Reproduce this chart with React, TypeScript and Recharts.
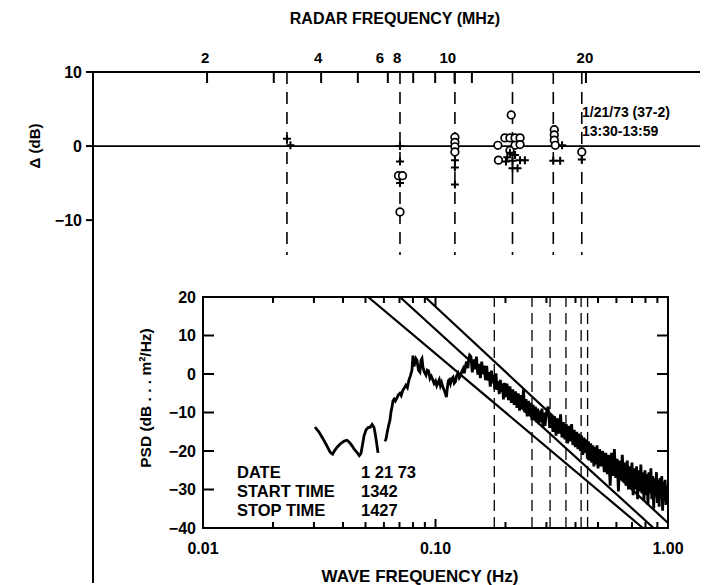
import React from 'react';
import { ComposedChart, Line, Scatter, XAxis, YAxis, ReferenceLine } from 'recharts';

const FONT = '"Liberation Sans", Arial, Helvetica, sans-serif';
const W = 715;
const H = 585;

// ---------------- top panel: radar frequency vs delta ----------------
const radarTicks = [2, 3, 4, 5, 6, 7, 8, 9, 10, 20];
const radarLabelled = [2, 4, 6, 8, 10, 20];
const radarFreqs = [3.25, 6.46, 9.02, 12.8, 16.4, 19.5];
const radarDashTop = 10;
const radarDashBottom = -14.7;
const deltaTicks = [10, 0, -10];

const circlePts = [
  { f: 6.40, d: -4.0 }, { f: 6.56, d: -4.0 }, { f: 6.46, d: -8.9 },
  { f: 9.02, d: 1.2 }, { f: 9.02, d: 0.5 }, { f: 9.02, d: -0.1 }, { f: 9.02, d: -0.8 },
  { f: 12.7, d: 4.2 }, { f: 12.22, d: 1.1 }, { f: 12.6, d: 1.1 }, { f: 13.0, d: 1.1 }, { f: 13.4, d: 1.1 },
  { f: 11.71, d: 0.1 }, { f: 13.0, d: 0.1 }, { f: 13.4, d: 0.2 }, { f: 12.6, d: -0.6 }, { f: 11.75, d: -1.9 },
  { f: 16.5, d: 2.2 }, { f: 16.5, d: 1.5 }, { f: 16.5, d: 0.8 }, { f: 16.6, d: 0.1 },
  { f: 19.5, d: -0.8 },
];
const plusPts = [
  { f: 3.25, d: 1.0 }, { f: 3.32, d: 0.1 },
  { f: 6.46, d: 0.0 }, { f: 6.46, d: -2.1 }, { f: 6.46, d: -5.0 },
  { f: 9.02, d: -1.9 }, { f: 9.02, d: -2.9 }, { f: 9.02, d: -5.2 },
  { f: 12.6, d: -0.9 }, { f: 12.4, d: -1.5 }, { f: 13.0, d: -1.2 }, { f: 12.8, d: -2.0 },
  { f: 13.4, d: -1.9 }, { f: 13.8, d: -1.9 }, { f: 12.8, d: -3.0 }, { f: 13.2, d: -3.0 }, { f: 12.3, d: -2.1 },
  { f: 17.3, d: 0.1 }, { f: 16.4, d: -2.0 }, { f: 17.1, d: -2.0 },
  { f: 19.5, d: -1.8 },
];

// ---------------- bottom panel: wave spectrum ----------------
const waveTicks = [0.01, 0.02, 0.03, 0.04, 0.05, 0.06, 0.07, 0.08, 0.09, 0.1, 0.2, 0.3, 0.4, 0.5, 0.6, 0.7, 0.8, 0.9, 1];
const waveMajor = [0.01, 0.1, 1];
const waveMajorLabels = ['0.01', '0.10', '1.00'];
const psdTicks = [20, 10, 0, -10, -20, -30, -40];
const braggFreqs = [0.179, 0.260, 0.311, 0.364, 0.423, 0.451];

const lowFreq = [0.0303, 0.0315, 0.0328, 0.0340, 0.0352, 0.0361, 0.0370, 0.0380, 0.0392, 0.0405, 0.0416, 0.0427, 0.0437, 0.0448, 0.0460, 0.0470, 0.0478, 0.0485, 0.0493, 0.0503, 0.0513, 0.0524, 0.0534, 0.0544, 0.0552, 0.0560, 0.0566, 0.0585, 0.0607, 0.0613, 0.0619, 0.0628, 0.0637, 0.0643, 0.0650, 0.0656, 0.0664, 0.0672, 0.0683, 0.0692, 0.0703, 0.0712, 0.0724, 0.0735, 0.0746, 0.0757, 0.0769, 0.0780, 0.0792, 0.0800, 0.0808, 0.0816, 0.0824, 0.0832, 0.0845, 0.0857, 0.0866, 0.0875, 0.0883, 0.0895, 0.0910, 0.0922, 0.0934, 0.0947, 0.0960, 0.0975, 0.0986, 0.1000, 0.1012, 0.1025, 0.1038, 0.1050, 0.1062, 0.1076, 0.1090, 0.1102, 0.1114, 0.1125, 0.1135, 0.1147, 0.1160, 0.1175, 0.1190, 0.1204, 0.1218, 0.1232, 0.1249, 0.1265, 0.1283, 0.1300, 0.1315, 0.1330, 0.1345, 0.1360, 0.1378, 0.1390, 0.1402];
const lowPsd = [-13.8, -15.0, -16.8, -18.5, -20.3, -20.8, -19.7, -18.8, -18.0, -17.4, -17.2, -17.8, -18.6, -19.6, -20.4, -21.2, -20.6, -18.5, -16.0, -14.5, -13.9, -13.8, -13.1, -13.9, -16.0, -18.5, -20.5, null, -17.5, -16.8, -15.3, -13.5, -12.0, -10.0, -8.6, -7.0, -6.5, -7.0, -6.2, -5.4, -5.0, -5.6, -4.2, -3.6, -2.9, -3.5, -1.5, -0.5, 1.0, 4.8, 2.0, 2.9, 4.0, 3.6, 1.0, 0.5, 3.5, 4.0, 1.8, 0.5, -0.3, 1.0, 0.8, -1.2, -0.6, -1.6, -2.4, -1.8, -3.0, -2.2, -1.5, -3.0, -2.2, -3.4, -4.2, -5.0, -6.0, -3.5, -1.8, -1.5, -2.5, -1.2, -0.8, -2.4, -2.0, -0.5, 0.2, -1.0, -0.3, 0.8, 1.4, 0.2, 2.0, 3.2, 1.5, 4.0, 4.9];

const highFreq = [
  0.142, 0.144, 0.146, 0.148, 0.150, 0.152, 0.154, 0.156, 0.158, 0.160, 0.162, 0.164, 0.166, 0.168, 0.170, 0.172, 0.174, 0.176, 0.178, 0.180, 0.182, 0.184, 0.186, 0.188, 0.190, 0.192, 0.194, 0.196, 0.198, 0.200,
  0.203, 0.206, 0.209, 0.212, 0.215, 0.218, 0.221, 0.224, 0.227, 0.230, 0.233, 0.236, 0.239, 0.242, 0.245, 0.248, 0.251, 0.254, 0.257, 0.260, 0.263, 0.266, 0.269, 0.272, 0.275, 0.278, 0.281, 0.284, 0.287, 0.290, 0.293, 0.296, 0.299,
  0.305, 0.310, 0.315, 0.320, 0.325, 0.330, 0.335, 0.340, 0.345, 0.350, 0.355, 0.360, 0.365, 0.370, 0.375, 0.380, 0.385, 0.390, 0.395, 0.400, 0.405, 0.410, 0.415, 0.420, 0.425, 0.430, 0.435, 0.440, 0.445, 0.450, 0.455, 0.460, 0.465, 0.470, 0.475, 0.480, 0.485, 0.490, 0.495, 0.500,
  0.508, 0.516, 0.524, 0.532, 0.540, 0.548, 0.556, 0.564, 0.572, 0.580, 0.588, 0.596, 0.604, 0.612, 0.620, 0.628, 0.636, 0.644, 0.652, 0.660, 0.668, 0.676, 0.684, 0.692, 0.700, 0.708, 0.716, 0.724, 0.732, 0.740, 0.748, 0.756, 0.764, 0.772, 0.780, 0.788, 0.796, 0.804, 0.812, 0.820, 0.828, 0.836, 0.844, 0.852, 0.860, 0.868, 0.876, 0.884, 0.892, 0.900, 0.908, 0.916, 0.924, 0.932, 0.940, 0.948, 0.956, 0.964, 0.972, 0.980, 0.988, 0.996,
];
const highPsd = [
  4.5, 0.4, 3.8, 1.2, 4.5, -0.2, 2.6, -1.1, 3.2, 0.0, 2.2, -1.6, 2.1, -1.7, 0.5, -3.3, 0.9, -2.4, -0.2, -4.0, 0.2, -4.1, -1.9, -5.2, -1.5, -4.7, -2.4, -6.6, -2.3, -6.0,
  -2.5, -6.8, -3.2, -7.5, -4.0, -8.0, -4.5, -8.8, -5.0, -9.5, -5.5, -9.0, -4.0, -10.0, -6.5, -11.0, -7.0, -10.5, -7.5, -12.0, -8.0, -11.5, -8.5, -12.5, -9.0, -13.0, -9.5, -12.5, -9.0, -14.0, -10.0, -13.5, -10.5,
  -8.5, -14.0, -10.5, -15.0, -11.0, -16.0, -11.5, -15.5, -10.5, -16.5, -12.5, -17.0, -13.0, -18.0, -13.5, -17.5, -13.0, -18.5, -14.5, -19.0, -15.0, -19.5, -15.5, -20.0, -16.0, -21.0, -16.5, -20.5, -17.0, -22.0, -17.5, -22.5, -18.0, -23.0, -18.5, -24.0, -19.0, -23.5, -18.5, -24.5,
  -19.5, -24.0, -20.0, -25.5, -20.5, -26.0, -21.0, -29.0, -20.5, -26.5, -19.5, -27.0, -22.0, -30.5, -22.5, -27.5, -21.0, -28.0, -23.0, -29.0, -22.5, -30.0, -24.0, -29.5, -23.0, -31.5, -24.5, -30.0, -24.0, -32.5, -25.0, -30.5, -23.5, -31.0, -25.5, -33.0, -25.0, -31.5, -26.0, -34.0, -25.5, -31.0, -24.5, -32.5, -26.5, -35.0, -27.0, -32.0, -25.5, -33.5, -27.5, -34.5, -27.0, -32.0, -26.5, -35.5, -28.0, -33.0, -27.5, -34.0, -29.0, -33.0,
];

// reference slopes: [f start, f end], [psd start, psd end]
const refLineFreqs = [[0.0513, 0.780], [0.0703, 0.867], [0.0902, 1.0]];
const refLinePsd = [[20, -40], [20, -40], [20, -38.7]];

const spectrum = [
  ...lowFreq.map((f, i) => ({ f, psd: lowPsd[i] })),
  ...highFreq.map((f, i) => ({ f, psd: highPsd[i] })),
];
const refLines = refLineFreqs.map((fs, i) => fs.map((f, j) => ({ f, psd: refLinePsd[i][j] })));

// ---------------- layout ----------------
const TL = 93, TR = 700, TT = 72, TB = 583;
const BL = 203, BR = 668, BT = 297, BB = 528;
// the printed tick labels of the original sit a little left of their ticks
const topLabelShift: Record<number, number> = { 2: -2, 4: -3, 6: -8, 8: -38, 10: -24, 20: -1 };

const minus = (v: number) => String(v).replace('-', '\u2212');
const txt = { fontFamily: FONT, fontWeight: 700, fill: '#000' } as const;

const TopTick = (props: any) => {
  const { x, payload } = props;
  const v = payload.value;
  const lab = radarLabelled.includes(v);
  return (
    <g>
      <line x1={x} x2={x} y1={TT} y2={TT + 11} stroke="#000" strokeWidth={2} />
      {lab && (
        <text x={x + (topLabelShift[v] || 0)} y={TT - 9} textAnchor="middle" fontSize={15} {...txt}>{String(v)}</text>
      )}
    </g>
  );
};

const WaveTick = (props: any) => {
  const { x, payload } = props;
  const v = payload.value;
  const idx = waveMajor.findIndex((m) => Math.abs(m - v) < 1e-9);
  const len = idx >= 0 ? 9 : 6;
  return (
    <g>
      <line x1={x} x2={x} y1={BB} y2={BB - len} stroke="#000" strokeWidth={2} />
      <line x1={x} x2={x} y1={BT} y2={BT + len} stroke="#000" strokeWidth={2} />
      {idx >= 0 && (
        <text x={x} y={BB + 26} textAnchor="middle" fontSize={16} {...txt}>{waveMajorLabels[idx]}</text>
      )}
    </g>
  );
};

const PsdTick = (props: any) => {
  const { y, payload } = props;
  return (
    <g>
      <line x1={BL} x2={BL + 11} y1={y} y2={y} stroke="#000" strokeWidth={2} />
      <line x1={BR} x2={BR - 11} y1={y} y2={y} stroke="#000" strokeWidth={2} />
      <text x={BL - 7} y={y + 5.5} textAnchor="end" fontSize={16} {...txt}>{minus(payload.value)}</text>
    </g>
  );
};

const CircleShape = (p: any) => (
  <circle cx={p.cx} cy={p.cy} r={3.8} fill="#fff" stroke="#000" strokeWidth={1.7} />
);
const PlusShape = (p: any) => (
  <path d={`M${p.cx - 4},${p.cy}h8M${p.cx},${p.cy - 4}v8`} stroke="#000" strokeWidth={2} fill="none" />
);

export default function App() {
  return (
    <div style={{ position: 'absolute', left: 0, top: 0, width: W, height: H, background: '#fff' }}>
      <div style={{ position: 'absolute', left: 0, top: 0 }}>
        <ComposedChart width={W} height={H} margin={{ top: TT - 30, right: W - TR, bottom: H - TB, left: TL - 50 }}>
          <XAxis
            dataKey="f" type="number" scale="log" domain={[1, 40]} allowDataOverflow
            orientation="top" height={30} ticks={radarTicks} interval={0}
            tickLine={false} axisLine={{ stroke: '#000', strokeWidth: 2 }} tick={TopTick}
          />
          <YAxis
            dataKey="d" type="number" domain={[-59, 10]} allowDataOverflow ticks={deltaTicks} interval={0}
            width={50} axisLine={{ stroke: '#000', strokeWidth: 2 }} tickLine={{ stroke: '#000', strokeWidth: 2 }}
            tickSize={7} tickMargin={4} tickFormatter={minus}
            tick={{ fill: '#000', fontSize: 16, fontWeight: 700, fontFamily: FONT }}
          />
          <ReferenceLine y={0} stroke="#000" strokeWidth={1.8} />
          {radarFreqs.map((f) => (
            <ReferenceLine key={f} segment={[{ x: f, y: radarDashTop }, { x: f, y: radarDashBottom }]}
              stroke="#000" strokeWidth={1.6} strokeDasharray="12 8" />
          ))}
          <Scatter data={circlePts} dataKey="d" shape={CircleShape} isAnimationActive={false} />
          <Scatter data={plusPts} dataKey="d" shape={PlusShape} isAnimationActive={false} />
          <text x={395} y={24} textAnchor="middle" fontSize={16} {...txt}>RADAR FREQUENCY (MHz)</text>
          <text x={582} y={117} fontSize={14} {...txt}>1/21/73 (37-2)</text>
          <text x={582} y={136} fontSize={14} {...txt}>13:30-13:59</text>
          <text transform="translate(40,146) rotate(-90)" textAnchor="middle" fontSize={15} {...txt}>Δ (dB)</text>
        </ComposedChart>
      </div>
      <div style={{ position: 'absolute', left: 0, top: 0 }}>
        <ComposedChart width={W} height={H} margin={{ top: BT, right: W - BR, bottom: H - BB - 30, left: BL - 40 }}>
          <XAxis
            dataKey="f" type="number" scale="log" domain={[0.01, 1]} allowDataOverflow
            height={30} ticks={waveTicks} interval={0} tickLine={false} axisLine={false} tick={WaveTick}
          />
          <YAxis
            dataKey="psd" type="number" domain={[-40, 20]} allowDataOverflow ticks={psdTicks} interval={0}
            width={40} tickLine={false} axisLine={false} tick={PsdTick}
          />
          <rect x={BL} y={BT} width={BR - BL} height={BB - BT} fill="none" stroke="#000" strokeWidth={2} />
          {braggFreqs.map((f) => (
            <ReferenceLine key={f} x={f} stroke="#000" strokeWidth={1.3} strokeDasharray="11 6" />
          ))}
          {refLines.map((d, i) => (
            <Line key={i} data={d} dataKey="psd" type="linear" stroke="#000" strokeWidth={2.2} dot={false} isAnimationActive={false} />
          ))}
          <Line data={spectrum} dataKey="psd" type="linear" stroke="#000" strokeWidth={2.8} dot={false} isAnimationActive={false} />
          <text x={237} y={478} fontSize={16.5} {...txt}>DATE</text>
          <text x={361} y={478} fontSize={16.5} {...txt}>1 21 73</text>
          <text x={237} y={497} fontSize={16.5} {...txt}>START TIME</text>
          <text x={361} y={497} fontSize={16.5} {...txt}>1342</text>
          <text x={237} y={516} fontSize={16.5} {...txt}>STOP TIME</text>
          <text x={361} y={516} fontSize={16.5} {...txt}>1427</text>
          <text x={420} y={582} textAnchor="middle" fontSize={17} {...txt}>WAVE FREQUENCY (Hz)</text>
          <text transform="translate(151,398) rotate(-90)" textAnchor="middle" fontSize={15.5} {...txt}>PSD (dB . . . m²/Hz)</text>
        </ComposedChart>
      </div>
    </div>
  );
}
